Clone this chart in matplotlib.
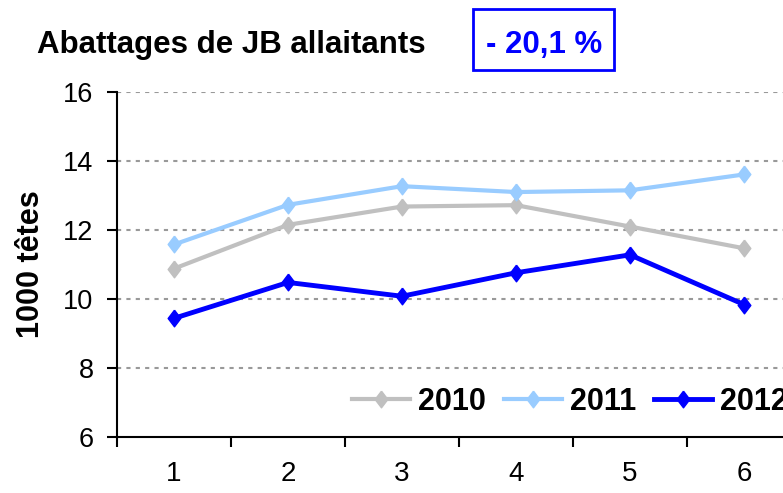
import numpy as np
import matplotlib
matplotlib.use("Agg")
from matplotlib import pyplot as plt
from matplotlib.patches import Rectangle

plt.rcParams['font.family'] = ['Liberation Sans', 'DejaVu Sans']

months = [1, 2, 3, 4, 5, 6]
series_names = ['2010', '2011', '2012']
vals_2010 = [10.88, 12.15, 12.68, 12.72, 12.10, 11.47]
vals_2011 = [11.58, 12.73, 13.27, 13.10, 13.15, 13.61]
vals_2012 = [9.44, 10.48, 10.08, 10.76, 11.28, 9.84]
yticks = [6, 8, 10, 12, 14, 16]

colors = ['#C0C0C0', '#99CCFF', '#0000FF']
widths = [3, 3, 3.5]

# diamond a bit taller than wide, like the Excel marker
diamond = [(0, 1), (0.76, 0), (0, -1), (-0.76, 0), (0, 1)]

W, H = 783, 493
fig = plt.figure(figsize=(W / 100, H / 100), dpi=100)
ax = fig.add_axes([117 / W, (H - 437) / H, 684 / W, 345 / H])

x = np.arange(len(months))
for i, vals in enumerate([vals_2010, vals_2011, vals_2012]):
    ax.plot(x, vals, color=colors[i], lw=widths[i], marker=diamond, markersize=12,
            label=series_names[i], clip_on=False, zorder=3)

ax.set_xlim(-0.5, len(months) - 0.5)
ax.set_ylim(6, 16)
ax.set_yticks(yticks)
ax.set_yticklabels([str(v) for v in yticks], fontsize=19.5)

# ticks between categories, labels at category centres
ax.set_xticks(np.arange(len(months) + 1) - 0.5)
ax.set_xticklabels([])
ax.set_xticks(x, minor=True)
ax.set_xticklabels([str(m) for m in months], minor=True, fontsize=20)
ax.tick_params(axis='x', which='major', direction='out', length=7, width=1.5)
ax.tick_params(axis='x', which='minor', length=0, pad=17)
ax.tick_params(axis='y', direction='out', length=7, width=1.5, pad=10)

for v in yticks[1:]:
    ax.axhline(v, color='#999999', lw=1.5, linestyle=(0, (2, 2.5)), zorder=1)

for s in ['top', 'right']:
    ax.spines[s].set_visible(False)
for s in ['left', 'bottom']:
    ax.spines[s].set_linewidth(1.5)

fig.text(31 / W, 1 - 264 / H, '1000 têtes', rotation=90, ha='center', va='center',
         fontsize=22, fontweight='bold')

fig.text(37 / W, 1 - 53 / H, 'Abattages de JB allaitants', ha='left', va='baseline',
         fontsize=22.5, fontweight='bold')
fig.patches.append(Rectangle((473 / W, 1 - 70 / H), 141 / W, 61 / H, transform=fig.transFigure,
                             fill=False, edgecolor='#0000FF', lw=2))
fig.text(544 / W, 1 - 53 / H, '- 20,1 %', ha='center', va='baseline',
         fontsize=22.5, fontweight='bold', color='#0000FF')

ax.legend(loc='center left', bbox_to_anchor=(352 / W, 1 - 402 / H), bbox_transform=fig.transFigure,
          ncol=3, frameon=False, borderpad=0, borderaxespad=0, handlelength=1.9,
          handletextpad=0.25, columnspacing=0.6, prop={'size': 22, 'weight': 'bold'})

fig.savefig('out.png', dpi=100)
